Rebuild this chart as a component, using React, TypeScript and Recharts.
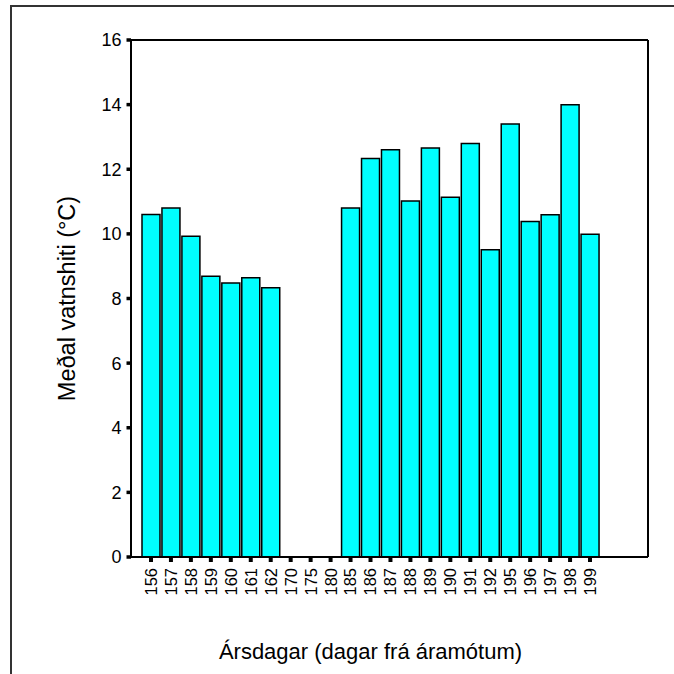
import React from 'react';
import { BarChart, Bar, XAxis, YAxis, ReferenceLine } from 'recharts';

// Day of year (dagar frá áramótum)
const DAYS = [
  '156', '157', '158', '159', '160', '161', '162', '170', '175', '180', '185', '186',
  '187', '188', '189', '190', '191', '192', '195', '196', '197', '198', '199',
];

// Mean water temperature (°C); no measurement on days 170, 175, 180
const MEAN_TEMP: (number | null)[] = [
  10.6, 10.8, 9.93, 8.69, 8.48, 8.64, 8.33, null, null, null, 10.8, 12.33,
  12.6, 11.02, 12.66, 11.13, 12.8, 9.51, 13.4, 10.38, 10.59, 14.0, 9.99,
];

const Y_TICKS = [0, 2, 4, 6, 8, 10, 12, 14, 16];

const X_TITLE = 'Ársdagar (dagar frá áramótum)';
const Y_TITLE = 'Meðal vatnshiti (°C)';

const FONT = '"Liberation Sans", Arial, sans-serif';
const PAD_LEFT = 10;
const PAD_RIGHT = 48;

const rows = DAYS.map((day, i) => ({ day, temp: MEAN_TEMP[i] }));

function DayTick(props: any) {
  const { x, y, payload } = props;
  return (
    <text
      transform={`translate(${x},${y}) rotate(-90)`}
      textAnchor="end"
      dy="0.36em"
      fontSize={16.5}
      fontFamily={FONT}
      fill="#000"
    >
      {payload.value}
    </text>
  );
}

function XTitle(props: any) {
  const vb = props.viewBox || {};
  const cx = vb.x + PAD_LEFT + (vb.width - PAD_LEFT - PAD_RIGHT) / 2;
  return (
    <text x={cx} y={vb.y + 102} textAnchor="middle" fontSize={22} fontFamily={FONT} fill="#000">
      {X_TITLE}
    </text>
  );
}

function YTitle(props: any) {
  const vb = props.viewBox || {};
  const x = vb.x + vb.width - 64;
  const y = vb.y + vb.height / 2;
  return (
    <text
      x={x}
      y={y}
      transform={`rotate(-90, ${x}, ${y})`}
      textAnchor="middle"
      dominantBaseline="central"
      fontSize={23.5}
      fontFamily={FONT}
      fill="#000"
    >
      {Y_TITLE}
    </text>
  );
}

export default function App() {
  return (
    <div
      style={{
        position: 'absolute',
        left: 0,
        top: 0,
        width: 674,
        height: 674,
        background: '#fff',
        overflow: 'hidden',
        fontFamily: FONT,
      }}
    >
      {/* outer frame: only its top and left edges fall inside the picture */}
      <div style={{ position: 'absolute', left: 10, top: 5, width: 664, height: 2, background: '#333' }} />
      <div style={{ position: 'absolute', left: 10, top: 5, width: 2, height: 669, background: '#333' }} />
      <div style={{ position: 'absolute', left: 0, top: 0 }}>
        <BarChart
          width={674}
          height={674}
          data={rows}
          margin={{ top: 40, right: 16, bottom: 57, left: 71 }}
          barCategoryGap={1}
        >
          <XAxis
            dataKey="day"
            interval={0}
            height={60}
            padding={{ left: PAD_LEFT, right: PAD_RIGHT }}
            axisLine={{ stroke: '#000', strokeWidth: 2 }}
            tickLine={{ stroke: '#000', strokeWidth: 4 }}
            tickSize={5}
            tickMargin={6}
            tick={<DayTick />}
            label={<XTitle />}
          />
          <YAxis
            yAxisId="left"
            width={60}
            domain={[0, 16]}
            ticks={Y_TICKS}
            interval={0}
            axisLine={{ stroke: '#000', strokeWidth: 2 }}
            tickLine={{ stroke: '#000', strokeWidth: 3.5 }}
            tickSize={4.5}
            tickMargin={5}
            tick={{ fill: '#000', fontSize: 18, fontFamily: FONT }}
            label={<YTitle />}
          />
          <YAxis
            yAxisId="right"
            orientation="right"
            width={10}
            domain={[0, 16]}
            tick={false}
            tickLine={false}
            axisLine={{ stroke: '#000', strokeWidth: 2 }}
          />
          <ReferenceLine yAxisId="left" y={16} stroke="#000" strokeWidth={2} />
          <Bar
            yAxisId="left"
            dataKey="temp"
            fill="#00FFFF"
            stroke="#000"
            strokeWidth={1.5}
            isAnimationActive={false}
          />
        </BarChart>
      </div>
    </div>
  );
}
